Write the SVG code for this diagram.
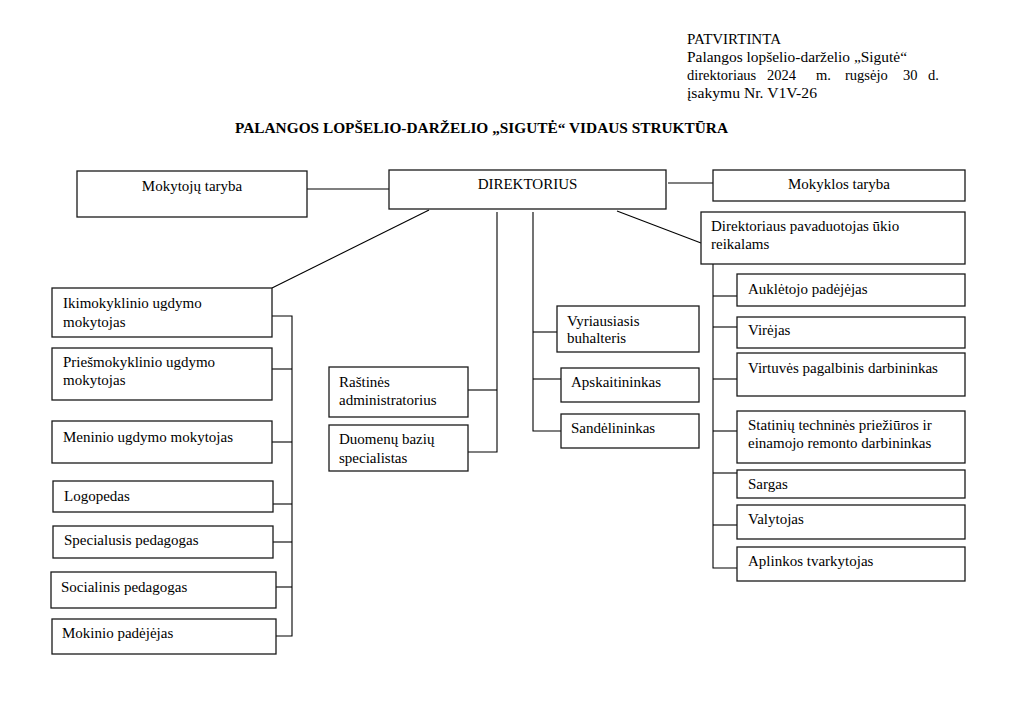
<svg xmlns="http://www.w3.org/2000/svg" width="1031" height="706" viewBox="0 0 1031 706">
<style>
.bg{fill:#fff}
.box{fill:#fff;stroke:#1a1a1a;stroke-width:1.3}
.t{font-family:"Liberation Serif","Times New Roman",serif;font-size:15px;fill:#000}
.h{font-family:"Liberation Serif","Times New Roman",serif;font-size:14.5px;fill:#000}
.hb{font-family:"Liberation Serif","Times New Roman",serif;font-size:14px;font-weight:bold;fill:#000}
.c{fill:none;stroke:#000;stroke-width:1.1}
</style>
<rect class="bg" x="0" y="0" width="1031" height="706"/>
<g id="header">
<text class="h" x="687" y="44" textLength="94" lengthAdjust="spacingAndGlyphs">PATVIRTINTA</text>
<text class="h" x="687" y="62" textLength="220" lengthAdjust="spacingAndGlyphs">Palangos lopšelio-darželio „Sigutė“</text>
<text class="h" y="80"><tspan x="687">direktoriaus</tspan><tspan x="767">2024</tspan><tspan x="816">m.</tspan><tspan x="845">rugsėjo</tspan><tspan x="903">30</tspan><tspan x="928">d.</tspan></text>
<text class="h" x="687" y="98" textLength="130" lengthAdjust="spacingAndGlyphs">įsakymu Nr. V1V-26</text>
<text class="hb" x="235" y="133" textLength="493" lengthAdjust="spacingAndGlyphs">PALANGOS LOPŠELIO-DARŽELIO „SIGUTĖ“ VIDAUS STRUKTŪRA</text>
</g>
<g id="connectors">
<line class="c" x1="307" y1="189" x2="389" y2="189"/>
<line class="c" x1="668" y1="183" x2="713" y2="183"/>
<line class="c" x1="617" y1="211" x2="701" y2="243"/>
<line class="c" x1="429" y1="210" x2="272" y2="288"/>
<polyline class="c" points="497,212 497,452 468,452"/>
<line class="c" x1="468" y1="390" x2="497" y2="390"/>
<polyline class="c" points="533,212 533,431 561,431"/>
<line class="c" x1="533" y1="332" x2="557" y2="332"/>
<line class="c" x1="533" y1="379" x2="561" y2="379"/>
<polyline class="c" points="272,316 292,316 292,636 276,636"/>
<line class="c" x1="272" y1="369" x2="292" y2="369"/>
<line class="c" x1="272" y1="442" x2="292" y2="442"/>
<line class="c" x1="273" y1="504" x2="292" y2="504"/>
<line class="c" x1="273" y1="542" x2="292" y2="542"/>
<line class="c" x1="276" y1="587" x2="292" y2="587"/>
<polyline class="c" points="713,264 713,568 737,568"/>
<line class="c" x1="713" y1="296" x2="737" y2="296"/>
<line class="c" x1="713" y1="327" x2="737" y2="327"/>
<line class="c" x1="713" y1="379" x2="737" y2="379"/>
<line class="c" x1="713" y1="431" x2="737" y2="431"/>
<line class="c" x1="713" y1="473" x2="737" y2="473"/>
<line class="c" x1="713" y1="525" x2="737" y2="525"/>
</g>
<g id="n-mokytoju-taryba"><rect class="box" x="77" y="171" width="230" height="46"/><text class="t" x="192" y="191" text-anchor="middle">Mokytojų taryba</text></g>
<g id="n-direktorius"><rect class="box" x="389" y="170" width="277" height="39"/><text class="t" x="527.5" y="189" text-anchor="middle">DIREKTORIUS</text></g>
<g id="n-mokyklos-taryba"><rect class="box" x="713" y="170" width="252" height="31"/><text class="t" x="839" y="189" text-anchor="middle">Mokyklos taryba</text></g>
<g id="n-pavaduotojas"><rect class="box" x="701" y="212" width="264" height="52"/><text class="t" x="711" y="231">Direktoriaus pavaduotojas ūkio</text><text class="t" x="711" y="249">reikalams</text></g>
<g id="n-ikimokyklinio"><rect class="box" x="52" y="288" width="220" height="49"/><text class="t" x="63" y="308">Ikimokyklinio ugdymo</text><text class="t" x="63" y="327">mokytojas</text></g>
<g id="n-priesmokyklinio"><rect class="box" x="52" y="348" width="220" height="52"/><text class="t" x="63" y="367">Priešmokyklinio ugdymo</text><text class="t" x="63" y="385">mokytojas</text></g>
<g id="n-meninio"><rect class="box" x="52" y="421" width="220" height="42"/><text class="t" x="63" y="442">Meninio ugdymo mokytojas</text></g>
<g id="n-logopedas"><rect class="box" x="53" y="481" width="220" height="31"/><text class="t" x="64" y="501">Logopedas</text></g>
<g id="n-specialusis"><rect class="box" x="53" y="526" width="220" height="32"/><text class="t" x="64" y="545">Specialusis pedagogas</text></g>
<g id="n-socialinis"><rect class="box" x="51" y="572" width="225" height="36"/><text class="t" x="61" y="592">Socialinis pedagogas</text></g>
<g id="n-mokinio"><rect class="box" x="52" y="619" width="224" height="35"/><text class="t" x="62" y="638">Mokinio padėjėjas</text></g>
<g id="n-rastines"><rect class="box" x="329" y="367" width="139" height="50"/><text class="t" x="339" y="387">Raštinės</text><text class="t" x="339" y="405">administratorius</text></g>
<g id="n-duomenu"><rect class="box" x="329" y="425" width="139" height="46"/><text class="t" x="339" y="444">Duomenų bazių</text><text class="t" x="339" y="463">specialistas</text></g>
<g id="n-vyriausiasis"><rect class="box" x="557" y="306" width="142" height="46"/><text class="t" x="567" y="326">Vyriausiasis</text><text class="t" x="567" y="343">buhalteris</text></g>
<g id="n-apskaitininkas"><rect class="box" x="561" y="368" width="138" height="34"/><text class="t" x="571" y="387">Apskaitininkas</text></g>
<g id="n-sandelininkas"><rect class="box" x="561" y="414" width="138" height="34"/><text class="t" x="571" y="433">Sandėlininkas</text></g>
<g id="n-aukletojo"><rect class="box" x="737" y="274" width="228" height="32"/><text class="t" x="748" y="294">Auklėtojo padėjėjas</text></g>
<g id="n-virejas"><rect class="box" x="737" y="317" width="228" height="31"/><text class="t" x="748" y="335">Virėjas</text></g>
<g id="n-virtuves"><rect class="box" x="737" y="353" width="228" height="43"/><text class="t" x="748" y="373">Virtuvės pagalbinis darbininkas</text></g>
<g id="n-statiniu"><rect class="box" x="737" y="411" width="228" height="52"/><text class="t" x="748" y="430">Statinių techninės priežiūros ir</text><text class="t" x="748" y="448">einamojo remonto darbininkas</text></g>
<g id="n-sargas"><rect class="box" x="737" y="470" width="228" height="28"/><text class="t" x="748" y="489">Sargas</text></g>
<g id="n-valytojas"><rect class="box" x="737" y="505" width="228" height="34"/><text class="t" x="748" y="524">Valytojas</text></g>
<g id="n-aplinkos"><rect class="box" x="737" y="547" width="228" height="34"/><text class="t" x="748" y="566">Aplinkos tvarkytojas</text></g>
</svg>
